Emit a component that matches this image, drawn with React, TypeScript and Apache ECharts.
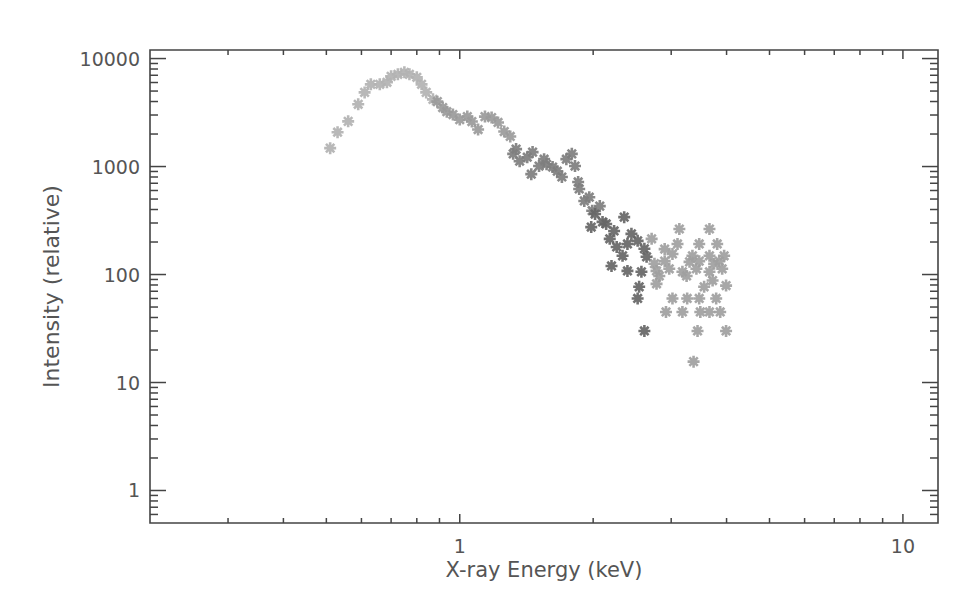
import React, { useEffect, useRef } from 'react';
import * as echarts from 'echarts';

const X_MIN = 0.2;
const X_MAX = 12;
const Y_MIN = 0.5;
const Y_MAX = 12000;

const xMajorTicks = [1, 10];
const xMinorTicks = [0.3, 0.4, 0.5, 0.6, 0.7, 0.8, 0.9, 2, 3, 4, 5, 6, 7, 8, 9];
const yMajorTicks = [1, 10, 100, 1000, 10000];
const yMinorTicks = [
  0.6, 0.7, 0.8, 0.9,
  2, 3, 4, 5, 6, 7, 8, 9,
  20, 30, 40, 50, 60, 70, 80, 90,
  200, 300, 400, 500, 600, 700, 800, 900,
  2000, 3000, 4000, 5000, 6000, 7000, 8000, 9000,
];

// Rising side up to the peak (light grey)
const riseEnergy = [0.51, 0.53, 0.56, 0.59, 0.61, 0.63, 0.66, 0.685, 0.70, 0.725, 0.75, 0.77, 0.80, 0.82, 0.84, 0.87];
const riseIntensity = [1480, 2080, 2620, 3770, 4860, 5770, 5770, 6030, 6840, 7150, 7450, 7150, 6700, 5770, 4860, 4190];

// Around 1 keV (mid grey)
const plateauEnergy = [0.89, 0.915, 0.935, 0.965, 1.0, 1.04, 1.065, 1.10, 1.14, 1.18, 1.22, 1.26, 1.30];
const plateauIntensity = [3990, 3520, 3220, 3030, 2720, 2900, 2610, 2200, 2900, 2840, 2560, 2110, 1900];

// 1.3 - 2 keV (darker grey)
const kneeEnergy = [1.32, 1.34, 1.365, 1.42, 1.46, 1.45, 1.51, 1.55, 1.57, 1.62, 1.66, 1.70, 1.74, 1.79, 1.82, 1.85, 1.86, 1.91, 1.96, 1.99, 2.07];
const kneeIntensity = [1310, 1450, 1120, 1220, 1360, 850, 1010, 1170, 1050, 990, 905, 800, 1170, 1310, 1010, 720, 620, 480, 520, 390, 430];

// 2 - 2.6 keV (darkest grey)
const dropEnergy = [1.98, 2.02, 2.10, 2.14, 2.18, 2.23, 2.26, 2.33, 2.35, 2.39, 2.44, 2.52, 2.20, 2.39, 2.57, 2.61, 2.64, 2.54, 2.52, 2.61];
const dropIntensity = [275, 363, 307, 294, 214, 253, 180, 149, 340, 192, 238, 205, 120, 108, 106, 173, 146, 77, 60, 30];

// High-energy tail (lighter grey)
const tailEnergy = [
  2.71, 2.75, 2.82, 3.13, 3.66, 3.10, 3.81, 3.02, 3.35, 3.66, 3.95,
  2.78, 2.97, 3.18, 3.42, 3.66, 3.91, 2.78, 3.25, 3.72, 3.99, 3.56,
  3.02, 3.26, 3.47, 3.79, 2.92, 3.18, 3.49, 3.66, 3.87, 3.44, 3.99, 3.37,
  2.90, 3.47, 3.30, 3.75, 2.90, 3.47, 3.85,
];
const tailIntensity = [
  214, 126, 97, 264, 264, 192, 192, 155, 149, 149, 149,
  108, 113, 106, 113, 106, 113, 82, 97, 88, 79, 77,
  60, 60, 60, 60, 45, 45, 45, 45, 45, 30, 30, 15.6,
  172, 192, 131, 126, 133, 133, 133,
];

const STAR = 'path://M5,0L5,10M0,5L10,5M1.5,1.5L8.5,8.5M8.5,1.5L1.5,8.5';

function pairs(xs: number[], ys: number[]) {
  return xs.map((x, i) => [x, ys[i]]);
}

function starSeries(name: string, xs: number[], ys: number[], color: string) {
  return {
    name,
    type: 'scatter',
    data: pairs(xs, ys),
    symbol: STAR,
    symbolSize: 12,
    itemStyle: { color, borderColor: color, borderWidth: 2.6, opacity: 0.92 },
    z: 2,
    silent: true,
  };
}

export default function App() {
  const ref = useRef<HTMLDivElement>(null);

  useEffect(() => {
    if (!ref.current) return;
    const chart = echarts.init(ref.current, undefined, { renderer: 'svg' });

    const tickData = [
      ...xMajorTicks.map((v) => [v, Y_MIN, 0, 1]),
      ...xMinorTicks.map((v) => [v, Y_MIN, 0, 0]),
      ...yMajorTicks.map((v) => [X_MIN, v, 1, 1]),
      ...yMinorTicks.map((v) => [X_MIN, v, 1, 0]),
    ];

    const frame = '#444';
    const textColor = '#555';
    const font = 'DejaVu Sans';

    const powerLabel = (v: number) => {
      const l = Math.log10(v);
      return Math.abs(l - Math.round(l)) < 1e-6 ? String(Math.round(v)) : '';
    };

    chart.setOption({
      animation: false,
      backgroundColor: '#ffffff',
      grid: {
        left: 150,
        right: 36,
        top: 50,
        bottom: 71,
        show: true,
        borderColor: frame,
        borderWidth: 1.6,
        backgroundColor: 'transparent',
      },
      xAxis: {
        type: 'log',
        logBase: 10,
        min: X_MIN,
        max: X_MAX,
        name: 'X-ray Energy (keV)',
        nameLocation: 'middle',
        nameGap: 33,
        nameTextStyle: { fontSize: 21, color: textColor, fontFamily: font },
        axisLine: { show: false },
        axisTick: { show: false },
        splitLine: { show: false },
        minorTick: { show: false },
        axisLabel: {
          margin: 13,
          fontSize: 19,
          color: textColor,
          fontFamily: font,
          formatter: powerLabel,
        },
      },
      yAxis: {
        type: 'log',
        logBase: 10,
        min: Y_MIN,
        max: Y_MAX,
        name: 'Intensity (relative)',
        nameLocation: 'middle',
        nameGap: 88,
        nameTextStyle: { fontSize: 22, color: textColor, fontFamily: font },
        axisLine: { show: false },
        axisTick: { show: false },
        splitLine: { show: false },
        axisLabel: {
          margin: 10,
          fontSize: 19,
          color: textColor,
          fontFamily: font,
          formatter: powerLabel,
        },
      },
      series: [
        {
          type: 'custom',
          silent: true,
          z: 3,
          data: tickData,
          renderItem: (_params: any, api: any) => {
            const isY = api.value(2) === 1;
            const major = api.value(3) === 1;
            const style = { stroke: frame, lineWidth: 1.5 };
            if (!isY) {
              const v = api.value(0);
              const b = api.coord([v, Y_MIN]);
              const t = api.coord([v, Y_MAX]);
              const len = major ? 9 : 5;
              return {
                type: 'group',
                children: [
                  { type: 'line', shape: { x1: b[0], y1: b[1], x2: b[0], y2: b[1] - len }, style },
                  { type: 'line', shape: { x1: t[0], y1: t[1], x2: t[0], y2: t[1] + len }, style },
                ],
              };
            }
            const v = api.value(1);
            const l = api.coord([X_MIN, v]);
            const r = api.coord([X_MAX, v]);
            const len = major ? 16 : 8;
            return {
              type: 'group',
              children: [
                { type: 'line', shape: { x1: l[0], y1: l[1], x2: l[0] + len, y2: l[1] }, style },
                { type: 'line', shape: { x1: r[0], y1: r[1], x2: r[0] - len, y2: r[1] }, style },
              ],
            };
          },
        },
        starSeries('rise', riseEnergy, riseIntensity, '#b2b2b2'),
        starSeries('plateau', plateauEnergy, plateauIntensity, '#9a9a9a'),
        starSeries('knee', kneeEnergy, kneeIntensity, '#7e7e7e'),
        starSeries('drop', dropEnergy, dropIntensity, '#666666'),
        starSeries('tail', tailEnergy, tailIntensity, '#a0a0a0'),
      ],
    });

    return () => chart.dispose();
  }, []);

  return (
    <div
      ref={ref}
      style={{ position: 'absolute', left: 0, top: 0, width: 974, height: 594 }}
    />
  );
}
